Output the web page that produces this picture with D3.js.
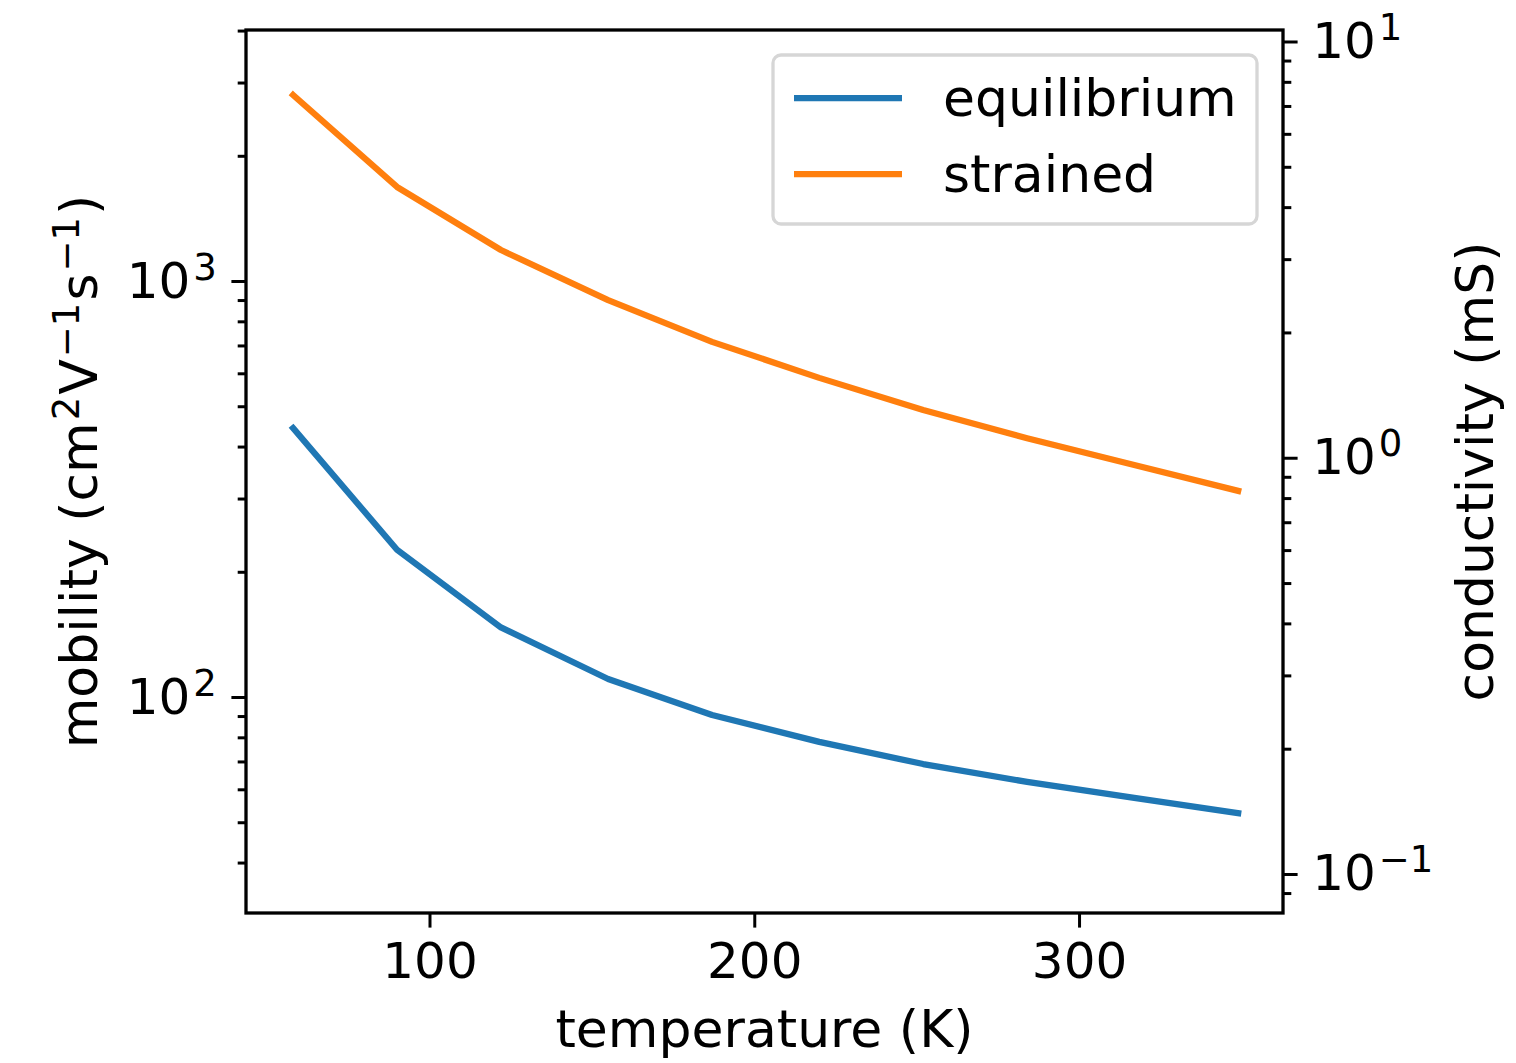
<!DOCTYPE html>
<html>
<head>
<meta charset="utf-8">
<script src="https://d3js.org/d3.v7.min.js"></script>
<style>
  body { margin: 0; background: #fff; }
  svg { font-family: "DejaVu Sans", sans-serif; }
</style>
</head>
<body>
<div id="vis"></div>
<script>
// data
const temperature = [58, 90, 122, 155, 187, 220, 252, 284, 317, 349];
const equilibrium = [443, 226, 147, 110.5, 90.5, 78, 69, 62.5, 57.2, 52.6];
const strained = [2800, 1683, 1187, 900, 714, 585, 490, 419, 361, 313];
const seriesNames = ["equilibrium", "strained"];
const seriesColors = ["#1f77b4", "#ff7f0e"];
const xTicks = [100, 200, 300];
const leftMajor = [100, 1000];
const rightMajor = [0.1, 1, 10];

// frame
const FRAME_WIDTH = 1516;
const FRAME_HEIGHT = 1063;
const PLOT = {left: 246, right: 1283, top: 30, bottom: 913};
const FONT = 50;       // tick labels
const LABEL_FONT = 52; // axis labels and legend

const svg = d3.select("#vis")
  .append("svg")
    .attr("width", FRAME_WIDTH)
    .attr("height", FRAME_HEIGHT);

// scales
const X_SCALE = d3.scaleLinear()
  .domain([43.5, 362.8])
  .range([PLOT.left, PLOT.right]);

const Y_LEFT = d3.scaleLog()
  .domain([Math.pow(10, 1.4808), Math.pow(10, 3.6034)])
  .range([PLOT.bottom, PLOT.top]);

const Y_RIGHT = d3.scaleLog()
  .domain([Math.pow(10, -1.0937), Math.pow(10, 1.0276)])
  .range([PLOT.bottom, PLOT.top]);

// minor tick values within a log domain
function minorTicks(scale) {
  const [lo, hi] = scale.domain();
  const out = [];
  for (let e = Math.floor(Math.log10(lo)) - 1; e <= Math.ceil(Math.log10(hi)); e++) {
    for (let m = 2; m <= 9; m++) {
      const v = m * Math.pow(10, e);
      if (v >= lo * 0.999 && v <= hi * 1.001) out.push(v);
    }
  }
  return out;
}

// write "10^n" labels with a raised exponent
function powerLabels(sel) {
  sel.selectAll(".tick text").each(function(d) {
    const t = d3.select(this);
    const e = Math.round(Math.log10(d));
    t.text(null);
    t.append("tspan").text("10");
    t.append("tspan")
      .attr("dx", 3)
      .attr("dy", -18)
      .attr("font-size", 37)
      .text(e < 0 ? "\u2212" + (-e) : String(e));
  });
}

function styleAxis(g) {
  g.select(".domain").remove();
  g.selectAll(".tick line").attr("stroke", "#000").attr("stroke-width", 3);
  g.selectAll(".tick text")
    .attr("fill", "#000")
    .attr("font-size", FONT)
    .attr("font-family", "DejaVu Sans");
}

// x axis
svg.append("g")
  .attr("transform", "translate(0," + PLOT.bottom + ")")
  .call(d3.axisBottom(X_SCALE).tickValues(xTicks).tickSize(14.6).tickPadding(14.6))
  .call(styleAxis);

// left axis, minor then major
svg.append("g")
  .attr("transform", "translate(" + PLOT.left + ",0)")
  .call(d3.axisLeft(Y_LEFT).tickValues(minorTicks(Y_LEFT)).tickSize(8.3).tickFormat(""))
  .call(styleAxis);

svg.append("g")
  .attr("transform", "translate(" + PLOT.left + ",0)")
  .call(d3.axisLeft(Y_LEFT).tickValues(leftMajor).tickSize(14.6).tickPadding(14.6))
  .call(styleAxis)
  .call(powerLabels);

// right axis
svg.append("g")
  .attr("transform", "translate(" + PLOT.right + ",0)")
  .call(d3.axisRight(Y_RIGHT).tickValues(minorTicks(Y_RIGHT)).tickSize(8.3).tickFormat(""))
  .call(styleAxis);

svg.append("g")
  .attr("transform", "translate(" + PLOT.right + ",0)")
  .call(d3.axisRight(Y_RIGHT).tickValues(rightMajor).tickSize(14.6).tickPadding(14.6))
  .call(styleAxis)
  .call(powerLabels);

// lines
const line = d3.line()
  .x((d, i) => X_SCALE(temperature[i]))
  .y(d => Y_LEFT(d));

[equilibrium, strained].forEach((vals, i) => {
  svg.append("path")
    .datum(vals)
    .attr("fill", "none")
    .attr("stroke", seriesColors[i])
    .attr("stroke-width", 6.25)
    .attr("stroke-linecap", "square")
    .attr("stroke-linejoin", "round")
    .attr("d", line);
});

// plot frame
svg.append("rect")
  .attr("x", PLOT.left)
  .attr("y", PLOT.top)
  .attr("width", PLOT.right - PLOT.left)
  .attr("height", PLOT.bottom - PLOT.top)
  .attr("fill", "none")
  .attr("stroke", "#000")
  .attr("stroke-width", 3.3);

// axis labels
svg.append("text")
  .attr("x", (PLOT.left + PLOT.right) / 2)
  .attr("y", 1047)
  .attr("text-anchor", "middle")
  .attr("font-size", LABEL_FONT)
  .text("temperature (K)");

const yLab = svg.append("text")
  .attr("transform", "translate(97," + (PLOT.top + PLOT.bottom) / 2 + ") rotate(-90)")
  .attr("text-anchor", "middle")
  .attr("font-size", LABEL_FONT);
yLab.append("tspan").text("mobility (cm");
yLab.append("tspan").attr("dx", 2).attr("dy", -18).attr("font-size", 37).text("2");
yLab.append("tspan").attr("dx", 2).attr("dy", 18).text("V");
yLab.append("tspan").attr("dx", 2).attr("dy", -18).attr("font-size", 37).text("\u22121");
yLab.append("tspan").attr("dx", 2).attr("dy", 18).text("s");
yLab.append("tspan").attr("dx", 2).attr("dy", -18).attr("font-size", 37).text("\u22121");
yLab.append("tspan").attr("dx", 2).attr("dy", 18).text(")");

svg.append("text")
  .attr("transform", "translate(1493," + (PLOT.top + PLOT.bottom) / 2 + ") rotate(-90)")
  .attr("text-anchor", "middle")
  .attr("font-size", LABEL_FONT)
  .text("conductivity (mS)");

// legend
const legend = svg.append("g");
legend.append("rect")
  .attr("x", 773)
  .attr("y", 55)
  .attr("width", 484)
  .attr("height", 169)
  .attr("rx", 8)
  .attr("fill", "#fff")
  .attr("fill-opacity", 0.8)
  .attr("stroke", "#d6d6d6")
  .attr("stroke-width", 3.3);

seriesNames.forEach((name, i) => {
  const y = 98 + i * 76;
  legend.append("line")
    .attr("x1", 794).attr("x2", 902)
    .attr("y1", y).attr("y2", y)
    .attr("stroke", seriesColors[i])
    .attr("stroke-width", 6.25);
  legend.append("text")
    .attr("x", 943)
    .attr("y", y + 18)
    .attr("font-size", LABEL_FONT)
    .text(name);
});
</script>
</body>
</html>
